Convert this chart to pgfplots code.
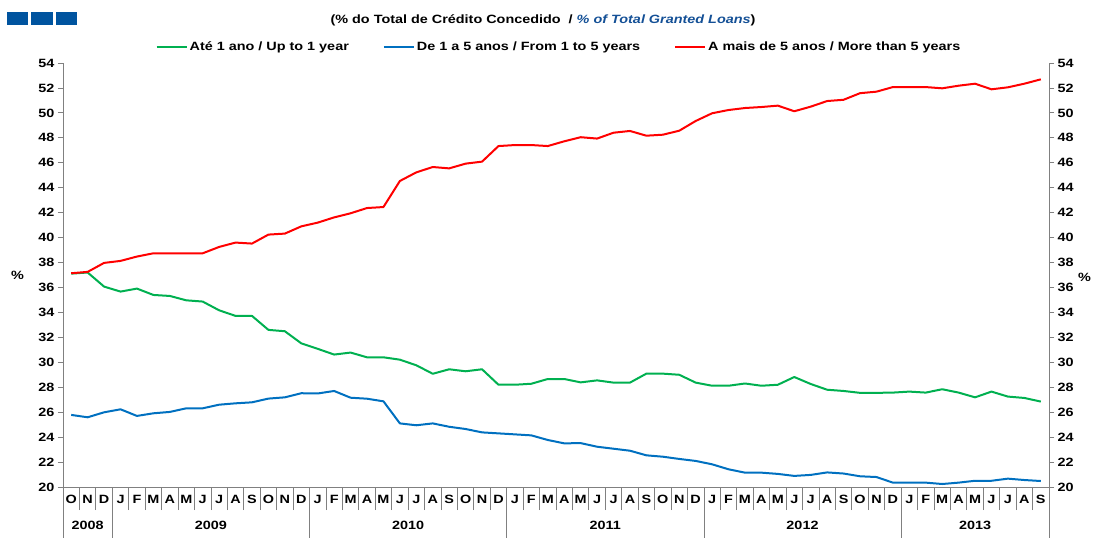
\documentclass[border=0pt]{standalone}
\usepackage{pgfplots}
\pgfplotsset{compat=1.18}
\usepackage{pgfplotstable}
\usepackage{fontspec}
\setmainfont{Liberation Sans}[FakeStretch=1.2]

\definecolor{lgreen}{RGB}{0,176,80}
\definecolor{lblue}{RGB}{0,112,192}
\definecolor{lred}{RGB}{255,0,0}
\definecolor{titleblue}{RGB}{20,80,150}
\definecolor{boxblue}{RGB}{0,84,159}
\definecolor{axgray}{RGB}{128,128,128}

% i = month index, 0 = Oct 2008 ... 59 = Sep 2013
\pgfplotstableread{
i  short  mid    long
0  37.11  25.78  37.14
1  37.20  25.59  37.25
2  36.07  25.99  37.97
3  35.67  26.23  38.13
4  35.91  25.70  38.48
5  35.40  25.91  38.74
6  35.32  26.02  38.74
7  34.97  26.31  38.74
8  34.87  26.31  38.74
9  34.17  26.60  39.25
10 33.72  26.71  39.60
11 33.72  26.79  39.52
12 32.60  27.09  40.24
13 32.49  27.19  40.32
14 31.52  27.52  40.90
15 31.08  27.50  41.20
16 30.62  27.70  41.62
17 30.78  27.16  41.95
18 30.40  27.08  42.37
19 30.40  26.87  42.45
20 30.21  25.10  44.54
21 29.76  24.95  45.23
22 29.08  25.10  45.66
23 29.44  24.83  45.55
24 29.28  24.65  45.93
25 29.44  24.38  46.09
26 28.20  24.30  47.34
27 28.20  24.22  47.42
28 28.28  24.14  47.42
29 28.66  23.77  47.34
30 28.66  23.50  47.72
31 28.39  23.52  48.05
32 28.55  23.23  47.94
33 28.37  23.07  48.41
34 28.37  22.91  48.55
35 29.09  22.54  48.17
36 29.09  22.43  48.25
37 29.00  22.25  48.57
38 28.37  22.09  49.35
39 28.12  21.82  49.97
40 28.12  21.42  50.23
41 28.30  21.15  50.39
42 28.12  21.15  50.47
43 28.20  21.05  50.58
44 28.82  20.89  50.13
45 28.26  20.97  50.50
46 27.80  21.17  50.95
47 27.70  21.08  51.05
48 27.55  20.86  51.58
49 27.55  20.80  51.70
50 27.57  20.35  52.07
51 27.65  20.35  52.07
52 27.57  20.35  52.07
53 27.84  20.24  51.97
54 27.57  20.35  52.18
55 27.19  20.50  52.34
56 27.65  20.50  51.89
57 27.25  20.67  52.05
58 27.14  20.56  52.34
59 26.85  20.48  52.69
}\loans

\begin{document}
\begin{tikzpicture}[font=\fontsize{12}{14}\selectfont\bfseries]
\useasboundingbox (-63pt,-51pt) rectangle (1031pt,487pt);
% decoration squares and title
\fill[boxblue] (-56pt,462pt) rectangle (-35pt,475pt);
\fill[boxblue] (-32pt,462pt) rectangle (-10pt,475pt);
\fill[boxblue] (-7pt,462pt) rectangle (14pt,475pt);
\node[anchor=center] at (480pt,467pt) {(\% do Total de Crédito Concedido\ \ /\ \textcolor{titleblue}{\itshape\% of Total Granted Loans})};

\begin{axis}[
    at={(0,0)}, anchor=south west,
    scale only axis,
    width=986pt, height=424pt,
    xmin=-0.5, xmax=59.5,
    ymin=20, ymax=54,
    axis x line*=bottom, axis y line*=left,
    axis line style={axgray, line width=0.8pt},
    clip=false,
    ytick={20,22,...,54},
    tick align=outside,
    major tick length=5pt,
    tick style={axgray, line width=0.8pt},
    xtick={0,...,59},
    major x tick style={draw=none},
    xticklabels={O,N,D,J,F,M,A,M,J,J,A,S,O,N,D,J,F,M,A,M,J,J,A,S,O,N,D,J,F,M,A,M,J,J,A,S,O,N,D,J,F,M,A,M,J,J,A,S,O,N,D,J,F,M,A,M,J,J,A,S},
    x tick label style={anchor=base, yshift=-11pt, font=\fontsize{12}{14}\selectfont\bfseries},
    minor xtick={-0.5,0.5,...,59.5},
    minor tick length=23pt,
    /pgf/number format/assume math mode=true,
    yticklabel style={font=\fontsize{12}{14}\selectfont\bfseries},
    ylabel={\%},
    ylabel style={rotate=-90, at={(axis description cs:-0.046,0.5)}, anchor=center},
    legend columns=3,
    legend style={at={(axis description cs:0.503,1.038)}, anchor=center,
        draw=none, fill=none, font=\fontsize{12}{14}\selectfont\bfseries,
        /tikz/every even column/.append style={column sep=32pt}},
    legend image code/.code={\draw[#1] (0pt,0pt) -- (30pt,0pt);},
    every axis plot/.append style={line width=2pt, no markers, line join=round},
]
\addplot[lgreen] table[x=i, y=short] {\loans};
\addlegendentry{Até 1 ano / Up to 1 year}
\addplot[lblue] table[x=i, y=mid] {\loans};
\addlegendentry{De 1 a 5 anos / From 1 to 5 years}
\addplot[lred] table[x=i, y=long] {\loans};
\addlegendentry{A mais de 5 anos / More than 5 years}

% year separators and labels
\pgfplotsinvokeforeach{-0.5,2.5,14.5,26.5,38.5,50.5,59.5}{
    \draw[axgray, line width=0.8pt] (axis cs:#1,20) -- ([yshift=-51pt]axis cs:#1,20);
}
\node[anchor=base] at ([yshift=-42pt]axis cs:1,20) {2008};
\node[anchor=base] at ([yshift=-42pt]axis cs:8.5,20) {2009};
\node[anchor=base] at ([yshift=-42pt]axis cs:20.5,20) {2010};
\node[anchor=base] at ([yshift=-42pt]axis cs:32.5,20) {2011};
\node[anchor=base] at ([yshift=-42pt]axis cs:44.5,20) {2012};
\node[anchor=base] at ([yshift=-42pt]axis cs:55,20) {2013};
\end{axis}

\begin{axis}[
    at={(0,0)}, anchor=south west,
    scale only axis,
    width=986pt, height=424pt,
    xmin=-0.5, xmax=59.5,
    ymin=20, ymax=54,
    axis x line=none, axis y line*=right,
    axis line style={axgray, line width=0.8pt},
    ytick={20,22,...,54},
    tick align=outside,
    major tick length=5pt,
    tick style={axgray, line width=0.8pt},
    /pgf/number format/assume math mode=true,
    yticklabel style={font=\fontsize{12}{14}\selectfont\bfseries},
    ylabel={\%},
    ylabel style={rotate=-90, at={(axis description cs:1.036,0.495)}, anchor=center},
]
\end{axis}
\end{tikzpicture}
\end{document}
